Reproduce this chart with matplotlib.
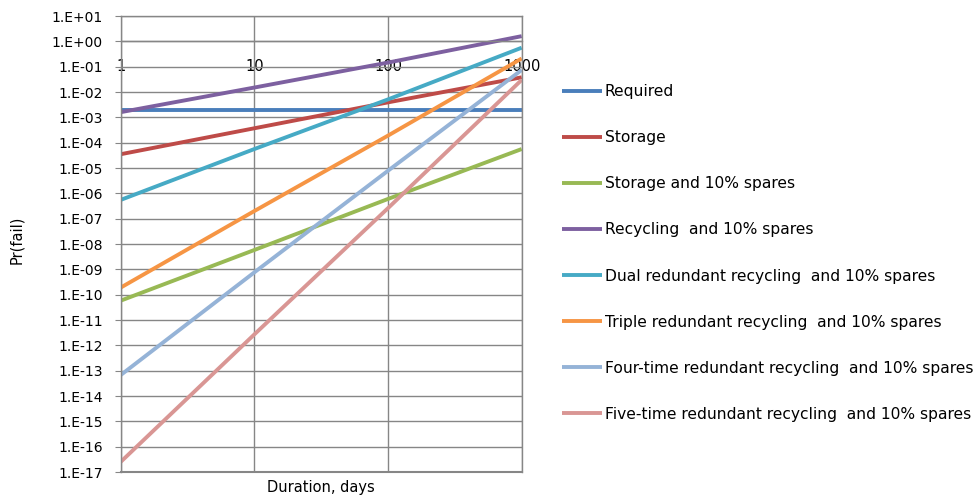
import matplotlib
matplotlib.use("Agg")
import matplotlib.pyplot as plt
import numpy as np

# values at 1, 10, 100, 1000 days
days = [1, 10, 100, 1000]
required = [2.0e-3, 2.0e-3, 2.0e-3, 2.0e-3]
storage = [3.5e-5, 3.7e-4, 3.9e-3, 3.8e-2]
storage_spares = [5.8e-11, 5.8e-9, 6.0e-7, 5.6e-5]
recycling = [1.6e-3, 1.5e-2, 1.45e-1, 1.6]
dual = [5.5e-7, 5.6e-5, 5.1e-3, 5.6e-1]
triple = [1.9e-10, 2.0e-7, 1.9e-4, 2.1e-1]
four = [6.7e-14, 7.6e-10, 7.8e-6, 7.4e-2]
five = [2.5e-17, 2.7e-12, 2.6e-7, 3.0e-2]

labels = ["Required", "Storage", "Storage and 10% spares",
          "Recycling  and 10% spares",
          "Dual redundant recycling  and 10% spares",
          "Triple redundant recycling  and 10% spares",
          "Four-time redundant recycling  and 10% spares",
          "Five-time redundant recycling  and 10% spares"]
series = [required, storage, storage_spares, recycling, dual, triple, four, five]
colors = ["#4A7EBB", "#BE4B48", "#98B954", "#7D60A0",
          "#46AAC5", "#F69544", "#95B3D7", "#D99694"]

grid_c = "#868686"

fig = plt.figure(figsize=(9.78, 5), dpi=100)
ax = fig.add_axes([0.1234, 0.056, 0.41, 0.912])

for vals, lab, c in zip(series, labels, colors):
    ax.plot(days, vals, color=c, lw=2.8, label=lab, solid_capstyle="butt")

ax.set_xscale("log")
ax.set_yscale("log")
ax.set_xlim(1, 1000)
ax.set_ylim(1e-17, 1e1)

yt = [10.0 ** k for k in range(1, -18, -1)]
ax.set_yticks(yt)
ax.set_yticklabels(["1.E%+03d" % k for k in range(1, -18, -1)])
ax.yaxis.set_minor_locator(matplotlib.ticker.NullLocator())
ax.set_xticks(days)
ax.set_xticklabels([str(d) for d in days])
ax.xaxis.set_minor_locator(matplotlib.ticker.NullLocator())

ax.grid(True, color=grid_c, lw=1)
ax.set_axisbelow(True)
for s in ax.spines.values():
    s.set_color(grid_c)
    s.set_linewidth(1)
ax.spines["bottom"].set_position(("data", 1.0))
ax.axhline(1e-17, color=grid_c, lw=1.5, clip_on=False, zorder=0)

ax.tick_params(axis="y", length=4, color=grid_c, pad=9, labelsize=10)
ax.tick_params(axis="x", length=0, pad=13, labelsize=10.5)

ax.set_xlabel("Duration, days", fontsize=10.5)
ax.xaxis.set_label_coords(0.5, -0.018)
ax.set_ylabel("Pr(fail)", fontsize=10.5)
ax.yaxis.set_label_coords(-0.241, 0.51)

ax.legend(loc="center left", bbox_to_anchor=(0.5743, 0.494),
          bbox_transform=fig.transFigure, frameon=False, fontsize=11.2,
          handlelength=2.6, handletextpad=0.18, labelspacing=2.0,
          borderpad=0, borderaxespad=0)

fig.savefig("out.png", dpi=100)
